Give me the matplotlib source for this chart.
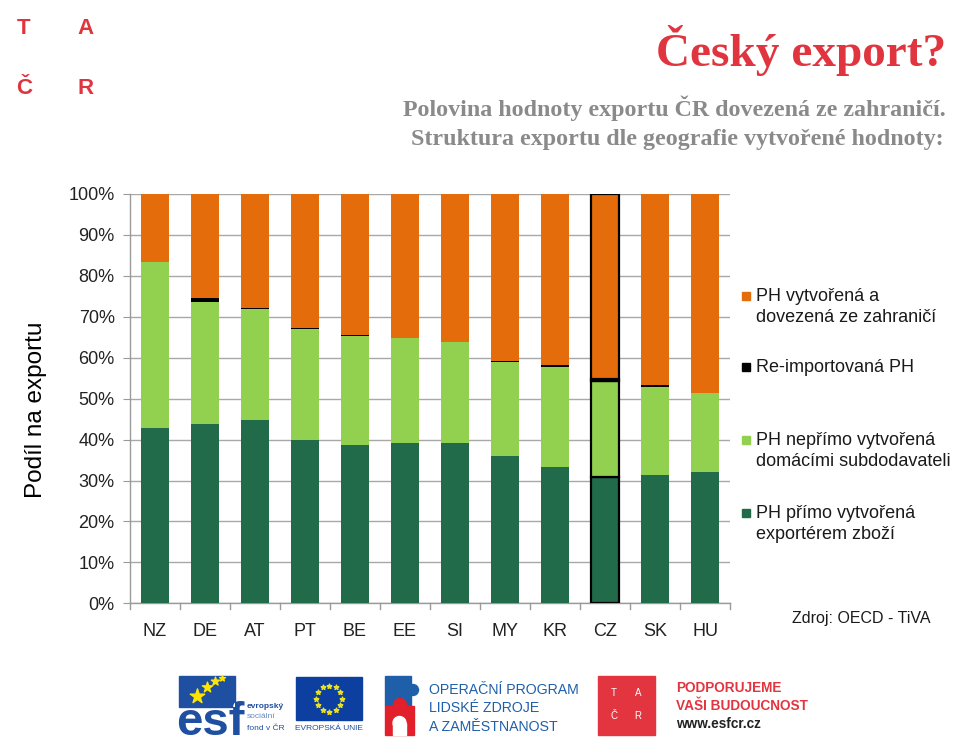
import matplotlib
matplotlib.use("Agg")
import matplotlib.pyplot as plt
from matplotlib.patches import Rectangle, Circle
import numpy as np

countries = ["NZ", "DE", "AT", "PT", "BE", "EE", "SI", "MY", "KR", "CZ", "SK", "HU"]
direct = [42.9, 43.7, 44.8, 39.8, 38.6, 39.1, 39.1, 36.0, 33.2, 30.9, 31.4, 32.0]
indirect = [40.4, 29.8, 27.1, 27.2, 26.8, 25.6, 24.7, 23.0, 24.6, 23.5, 21.5, 19.3]
reimport = [0.0, 1.1, 0.3, 0.3, 0.1, 0.1, 0.1, 0.3, 0.5, 0.4, 0.4, 0.1]
foreign = [100 - d - i - r for d, i, r in zip(direct, indirect, reimport)]

legend_labels = ["PH vytvořená a\ndovezená ze zahraničí", "Re-importovaná PH",
                 "PH nepřímo vytvořená\ndomácími subdodavateli", "PH přímo vytvořená\nexportérem zboží"]
yticks = [0, 10, 20, 30, 40, 50, 60, 70, 80, 90, 100]

C_ORANGE = "#E46C0A"
C_BLACK = "#000000"
C_LIGHT = "#92D050"
C_DARK = "#216A4A"

W, H = 960, 747
fig = plt.figure(figsize=(W / 100, H / 100), dpi=100)
fig.patch.set_facecolor("white")
SANS = ["Liberation Sans", "DejaVu Sans"]
SERIF = ["Liberation Serif", "DejaVu Serif"]

ax = fig.add_axes([130 / W, 1 - 603.3 / H, 600 / W, (603.3 - 194) / H])
x = np.arange(len(countries))
bw = 0.55
series = [(direct, C_DARK), (indirect, C_LIGHT), (reimport, C_BLACK), (foreign, C_ORANGE)]
bottom = np.zeros(len(countries))
for vals, col in series:
    vals = np.array(vals)
    edge = ["black" if c == "CZ" else "none" for c in countries]
    lw = [1.6 if c == "CZ" else 0 for c in countries]
    ax.bar(x, vals, bw, bottom=bottom, color=col, edgecolor=edge, linewidth=lw, zorder=3)
    bottom += vals

ax.set_xlim(-0.5, len(countries) - 0.5)
ax.set_ylim(0, 100)
ax.set_yticks(yticks)
ax.set_yticklabels([f"{v}%" for v in yticks], fontsize=13, family=SANS, color="#222222")
ax.set_xticks(x)
ax.set_xticklabels(countries, fontsize=13, family=SANS, color="#222222")
ax.tick_params(axis="x", length=0, pad=14)
ax.tick_params(axis="y", length=5, color="#9a9a9a", pad=6, direction="out")
ax.yaxis.grid(True, color="#a8a8a8", linewidth=1.0, zorder=0)
ax.set_axisbelow(True)
for s in ["top", "right"]:
    ax.spines[s].set_visible(False)
ax.spines["left"].set_color("#9a9a9a")
ax.spines["bottom"].set_color("#9a9a9a")
ax.spines["left"].set_linewidth(1.0)
ax.spines["bottom"].set_linewidth(1.0)
# category boundary ticks on the x axis
for b in np.arange(-0.5, len(countries) + 0.5, 1):
    ax.plot([b, b], [0, -1.3], color="#9a9a9a", lw=1.0, clip_on=False, zorder=2)

# overlay axes in pixel coordinates
bg = fig.add_axes([0, 0, 1, 1], zorder=-1)
bg.set_xlim(0, W)
bg.set_ylim(H, 0)
bg.axis("off")

# y label
bg.text(36, 410, "Podíl na exportu", rotation=90, ha="center", va="center",
        fontsize=17.5, family=SANS, color="black")

# legend
leg_items = [(C_ORANGE, legend_labels[0], 296), (C_BLACK, legend_labels[1], 367),
             (C_LIGHT, legend_labels[2], 440), (C_DARK, legend_labels[3], 513)]
for col, lab, yy in leg_items:
    bg.add_patch(Rectangle((741.5, yy - 4.5), 8.5, 8.5, color=col))
    bg.text(756, yy - 8, lab, ha="left", va="top", fontsize=13, family=SANS,
            color="#1a1a1a", linespacing=1.28)
bg.text(930, 618, "Zdroj: OECD - TiVA", ha="right", va="center", fontsize=11.5,
        family=SANS, color="#1a1a1a")

# title and subtitle
TRED = "#E0353F"
bg.text(946, 66, "Český export?", ha="right", va="baseline", fontsize=34,
        family=SERIF, fontweight="bold", color=TRED)
bg.text(946, 116, "Polovina hodnoty exportu ČR dovezená ze zahraničí.", ha="right",
        va="baseline", fontsize=17.3, family=SERIF, fontweight="bold", color="#8a8a8a")
bg.text(944, 145, "Struktura exportu dle geografie vytvořené hodnoty:", ha="right",
        va="baseline", fontsize=17.3, family=SERIF, fontweight="bold", color="#8a8a8a")

# TACR logo top-left
for lt, xx, yy in [("T", 24, 28), ("A", 86, 28), ("Č", 24, 88), ("R", 86, 88)]:
    bg.text(xx, yy, lt, ha="center", va="center", fontsize=16, family=SANS,
            fontweight="bold", color=TRED)

# footer: ESF logo
ESF_BLUE = "#1E4FA0"
clip_rect = Rectangle((179, 676), 56, 31, color=ESF_BLUE)
bg.add_patch(clip_rect)
t1 = bg.text(176, 735, "esf", ha="left", va="baseline", fontsize=34, family=SANS,
             fontweight="bold", color=ESF_BLUE)
t2 = bg.text(176, 735, "esf", ha="left", va="baseline", fontsize=34, family=SANS,
             fontweight="bold", color="white")
t2.set_clip_on(True)
t2.set_clip_path(clip_rect)
for sx, sy, ss in [(197, 696, 120), (207, 687, 60), (215, 681, 40), (222, 678, 20)]:
    bg.scatter(sx, sy, marker="*", s=ss, color="#FFE500", zorder=3)
bg.text(247, 706, "evropský", fontsize=6, family=SANS, fontweight="bold", color=ESF_BLUE, va="center")
bg.text(247, 717, "sociální", fontsize=6, family=SANS, color="#6a8ac0", va="center")
bg.text(247, 728, "fond v ČR", fontsize=6, family=SANS, color=ESF_BLUE, va="center")

# EU flag
bg.add_patch(Rectangle((296, 677), 66, 43, color="#0D3FA0"))
ang = np.linspace(0, 2 * np.pi, 13)[:-1]
bg.scatter(329 + 13 * np.cos(ang), 698.5 + 13 * np.sin(ang), marker="*", s=12,
           color="#E8E020", zorder=3)
bg.text(329, 729, "EVROPSKÁ UNIE", ha="center", va="center", fontsize=6,
        family=SANS, color=ESF_BLUE)

# OP LZZ logo
OP_BLUE = "#1F5FAA"
bg.add_patch(Rectangle((385, 676), 26, 30, color=OP_BLUE))
bg.add_patch(Circle((413, 690), 5.5, color=OP_BLUE))
bg.add_patch(Rectangle((385, 706), 29, 29, color="#E2202C"))
bg.add_patch(Circle((400, 705), 6.5, color="#E2202C"))
bg.add_patch(Circle((399.5, 723), 6.5, color="white"))
bg.add_patch(Rectangle((393, 723), 13, 12, color="white"))
for i, t in enumerate(["OPERAČNÍ PROGRAM", "LIDSKÉ ZDROJE", "A ZAMĚSTNANOST"]):
    bg.text(429, 690 + i * 18.5, t, ha="left", va="center", fontsize=10.2,
            family=SANS, color=OP_BLUE)

# TACR footer logo
bg.add_patch(Rectangle((598, 676), 57, 59, color="#E2353F"))
for lt, xx, yy in [("T", 614, 693), ("A", 638, 693), ("Č", 614, 716), ("R", 638, 716)]:
    bg.text(xx, yy, lt, ha="center", va="center", fontsize=7, family=SANS, color="white")
bg.text(676, 688, "PODPORUJEME", ha="left", va="center", fontsize=9.8, family=SANS,
        fontweight="bold", color="#E2353F")
bg.text(676, 706, "VAŠI BUDOUCNOST", ha="left", va="center", fontsize=9.8, family=SANS,
        fontweight="bold", color="#E2353F")
bg.text(676, 724, "www.esfcr.cz", ha="left", va="center", fontsize=9.8, family=SANS,
        fontweight="bold", color="#222222")

fig.savefig("out.png", dpi=100, facecolor="white")
